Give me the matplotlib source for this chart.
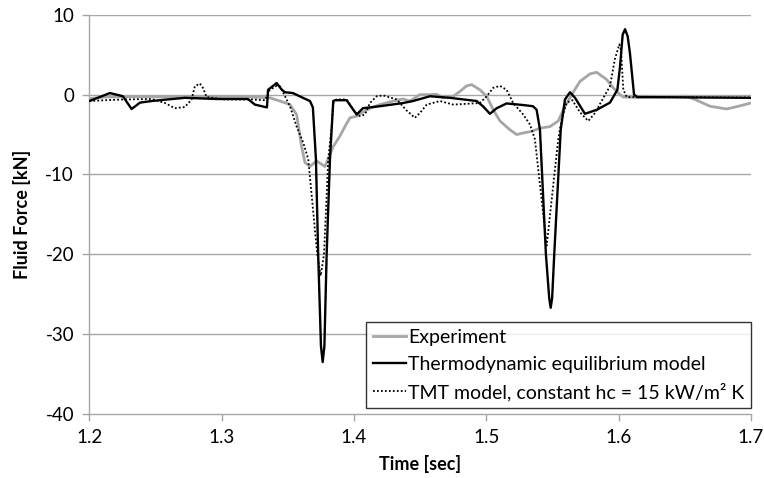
import matplotlib
matplotlib.use("Agg")
import matplotlib.pyplot as plt

plt.rcParams['font.family'] = ['Lato', 'DejaVu Sans']
plt.rcParams['axes.unicode_minus'] = False

# Measured fluid force
exp_t = [1.200, 1.2117, 1.230, 1.260, 1.300, 1.3226, 1.3364, 1.3440, 1.3516, 1.3566,
         1.3604, 1.3629, 1.3667, 1.3717, 1.3780, 1.3843, 1.3893, 1.3931, 1.3969, 1.4020,
         1.4057, 1.4120, 1.4196, 1.4296, 1.4370, 1.4423, 1.4498, 1.4574, 1.4624, 1.4674,
         1.4750, 1.4800, 1.4851, 1.4889, 1.4952, 1.5002, 1.5052, 1.5103, 1.5178, 1.5229,
         1.5279, 1.5342, 1.5405, 1.5481, 1.5543, 1.5594, 1.5645, 1.5707, 1.5783, 1.5833,
         1.5909, 1.5959, 1.5997, 1.6035, 1.6136, 1.6514, 1.6590, 1.6690, 1.6816, 1.6917,
         1.7000]
exp_f = [-0.5, -0.3, -0.25, -0.3, -0.3, -0.3, -0.4, -0.8, -1.25, -2.5,
         -6.5, -8.5, -9.0, -8.3, -9.0, -6.5, -5.2, -4.0, -2.9, -2.7,
         -2.3, -1.7, -1.25, -0.8, -0.55, -0.8, 0.0, 0.0, 0.05, -0.4,
         -0.2, 0.4, 1.1, 1.25, 0.6, -0.2, -1.9, -3.3, -4.4, -5.0,
         -4.8, -4.6, -4.2, -4.0, -3.3, -1.45, 0.0, 1.65, 2.6, 2.8,
         1.9, 0.85, 0.2, -0.3, -0.35, -0.2, -0.7, -1.45, -1.8, -1.4,
         -1.05]

# Thermodynamic equilibrium model
teq_t = [1.200, 1.2155, 1.2253, 1.2319, 1.2382, 1.2470, 1.2593, 1.2722, 1.2971, 1.3198,
         1.3251, 1.3342, 1.3350, 1.3415, 1.3455, 1.3478, 1.3538, 1.3614, 1.3667, 1.3689,
         1.3712, 1.3729, 1.3750, 1.3763, 1.3776, 1.3793, 1.3818, 1.3843, 1.3856, 1.3944,
         1.4020, 1.4067, 1.4196, 1.4370, 1.4445, 1.4574, 1.4725, 1.4927, 1.4974, 1.5027,
         1.5078, 1.5153, 1.5277, 1.5352, 1.5380, 1.5405, 1.5450, 1.5475, 1.5486, 1.5497,
         1.5513, 1.5562, 1.5594, 1.5632, 1.5670, 1.5745, 1.5834, 1.5934, 1.5990, 1.6010,
         1.6030, 1.6048, 1.6068, 1.6085, 1.6116, 1.6140, 1.7000]
teq_f = [-0.8, 0.2, -0.2, -1.8, -1.0, -0.8, -0.6, -0.4, -0.55, -0.55,
         -1.25, -1.6, 0.6, 1.45, 0.6, 0.3, 0.2, -0.4, -0.8, -1.6,
         -8.1, -20.0, -31.5, -33.5, -31.5, -20.0, -8.1, -0.8, -0.7, -0.7,
         -2.5, -1.7, -1.45, -1.05, -0.8, -0.2, -0.4, -0.8, -1.45, -2.4,
         -1.7, -1.1, -1.3, -1.45, -1.9, -4.4, -20.0, -25.5, -26.7, -25.5,
         -20.0, -4.4, -0.6, 0.3, -0.4, -2.4, -1.9, -1.0, 0.6, 3.5,
         7.5, 8.2, 7.3, 5.2, 0.0, -0.3, -0.4]

# TMT model, constant hc = 15 kW/m2 K
tmt_t = [1.200, 1.2117, 1.2268, 1.2470, 1.2571, 1.2646, 1.2722, 1.2772, 1.2797, 1.2835,
         1.2858, 1.2886, 1.3024, 1.3226, 1.3327, 1.3364, 1.3415, 1.3440, 1.3478, 1.3516,
         1.3566, 1.3616, 1.3654, 1.3722, 1.3748, 1.3773, 1.3805, 1.3831, 1.3843, 1.3868,
         1.3944, 1.3994, 1.4045, 1.4082, 1.4120, 1.4171, 1.4221, 1.4322, 1.4398, 1.4460,
         1.4498, 1.4549, 1.4649, 1.4750, 1.4851, 1.4952, 1.5002, 1.5052, 1.5103, 1.5153,
         1.5203, 1.5279, 1.5330, 1.5367, 1.5456, 1.5543, 1.5569, 1.5607, 1.5650, 1.5707,
         1.5770, 1.5821, 1.5884, 1.5934, 1.5972, 1.6005, 1.6018, 1.6035, 1.6061, 1.7000]
tmt_f = [-0.8, -0.7, -0.6, -0.55, -1.05, -1.7, -1.55, -0.6, 1.05, 1.4,
         0.85, -0.3, -0.6, -0.6, -0.7, 0.6, 1.1, 1.05, -0.2, -1.45,
         -4.0, -6.0, -8.1, -20.0, -22.7, -20.0, -8.1, -4.0, -1.05, -0.6,
         -0.6, -1.9, -2.7, -2.5, -1.05, -0.2, -0.1, -0.6, -2.0, -2.9,
         -2.3, -1.25, -0.8, -1.25, -1.15, -1.05, -0.2, 0.85, 1.1, 0.6,
         -1.05, -2.5, -3.75, -5.6, -18.9, -5.6, -3.1, -1.0, -0.7, -2.2,
         -3.3, -2.3, -0.4, 1.05, 4.5, 6.3, 5.5, 0.6, -0.3, -0.35]

x_ticks = [1.2, 1.3, 1.4, 1.5, 1.6, 1.7]
x_tick_labels = ['1.2', '1.3', '1.4', '1.5', '1.6', '1.7']
y_ticks = [-40, -30, -20, -10, 0, 10]

fig = plt.figure(figsize=(7.64, 4.78), dpi=100)
ax = fig.add_axes([0.117, 0.134, 0.866, 0.835])

grid_col = '#a6a6a6'
for v in y_ticks[1:]:
    ax.axhline(v, color=grid_col, lw=1.0, zorder=1)

ax.plot(exp_t, exp_f, color='#a6a6a6', lw=2.0, label='Experiment', zorder=2)
ax.plot(teq_t, teq_f, color='black', lw=1.7, label='Thermodynamic equilibrium model', zorder=3)
ax.plot(tmt_t, tmt_f, color='black', lw=1.3, linestyle=(0, (1, 1.2)),
        label='TMT model, constant hc = 15 kW/m² K', zorder=4)

ax.set_xlim(1.2, 1.7)
ax.set_ylim(-40, 10)
ax.set_xticks(x_ticks)
ax.set_xticklabels(x_tick_labels)
ax.set_yticks(y_ticks)

for s in ['top', 'right']:
    ax.spines[s].set_visible(False)
for s in ['left', 'bottom']:
    ax.spines[s].set_color(grid_col)
    ax.spines[s].set_linewidth(1.0)

ax.tick_params(axis='both', direction='out', length=5, width=1.0, color=grid_col,
               labelsize=13.5, labelcolor='black', pad=6)

ax.set_xlabel('Time [sec]', fontsize=13, fontweight='bold', labelpad=6)
ax.set_ylabel('Fluid Force [kN]', fontsize=13, fontweight='bold', labelpad=10)

leg = ax.legend(loc='lower right', bbox_to_anchor=(1.0, 0.015), fontsize=14,
                frameon=True, fancybox=False, handlelength=1.7, handletextpad=0.1,
                borderpad=0.35, labelspacing=0.5, borderaxespad=0.0)
leg.get_frame().set_edgecolor('black')
leg.get_frame().set_linewidth(1.0)
leg.set_zorder(10)

fig.savefig('out.png', dpi=100)
